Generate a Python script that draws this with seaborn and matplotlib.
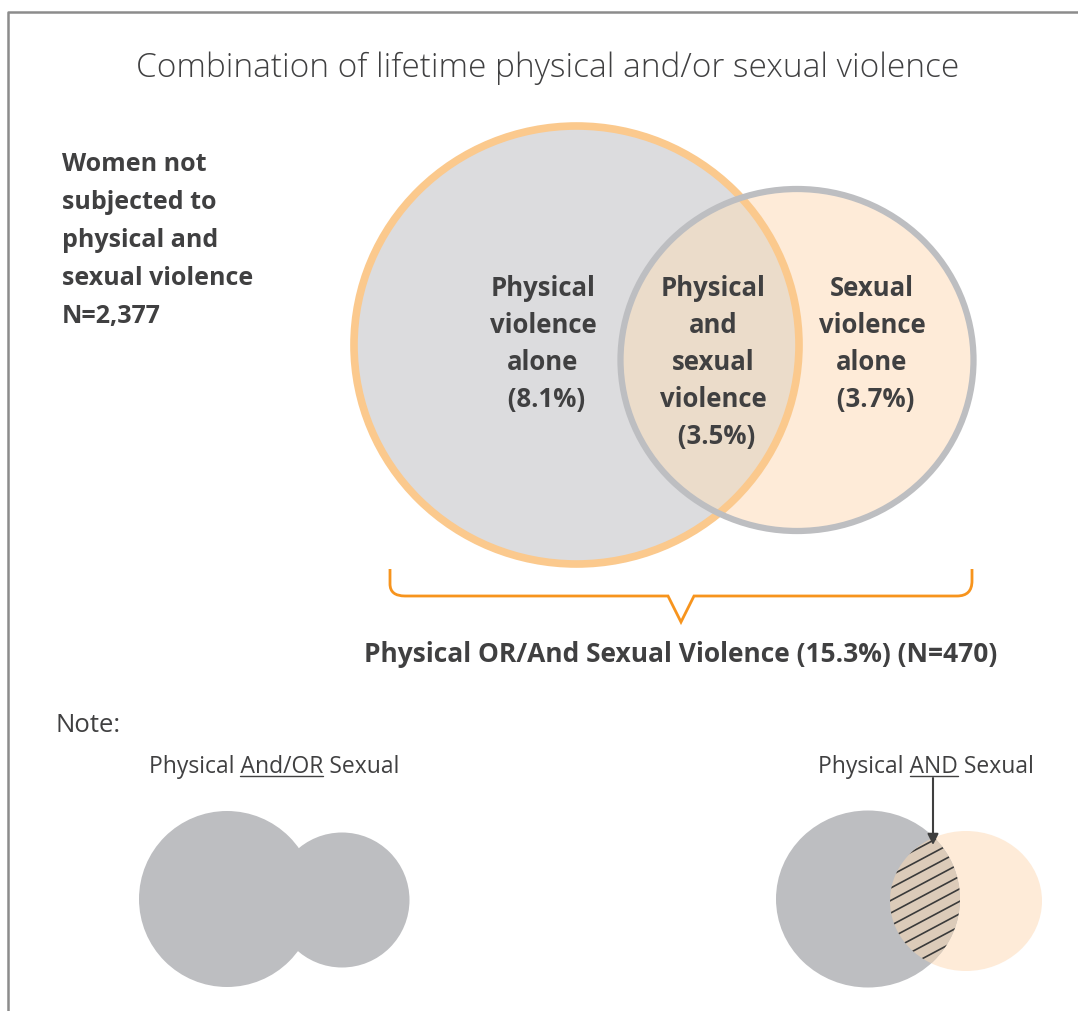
import matplotlib
matplotlib.use("Agg")
import numpy as np
import seaborn as sns
import matplotlib.pyplot as plt
from matplotlib.patches import Ellipse, PathPatch, Polygon
from matplotlib.path import Path

# ---- data -------------------------------------------------------------
title = "Combination of lifetime physical and/or sexual violence"
region_lines = [["Physical", "violence", "alone"],
                ["Physical", "and", "sexual", "violence"],
                ["Sexual", "violence", "alone"]]
region_pct = [8.1, 3.5, 3.7]
any_pct = 15.3
any_n = 470
none_lines = ["Women not", "subjected to", "physical and", "sexual violence"]
none_n = 2377

# ---- style -------------------------------------------------------------
sns.set_theme(style="white")
plt.rcParams["font.family"] = ["Open Sans", "DejaVu Sans"]

TXT = "#404041"
GRAY_FILL = "#DCDCDE"
ORANGE_EDGE = "#FBC98D"
PEACH = "#FEEBD8"
OVERLAP = "#EBDCCA"
GRAY_EDGE = "#BDBEC1"
BRACE = "#F7941D"
BLOB = "#BDBEC1"
HATCH_FILL = "#DCCBB9"

fig = plt.figure(figsize=(10.78, 10.12), dpi=100)
ax = fig.add_axes([0, 0, 1, 1])
ax.set_xlim(0, 1078)
ax.set_ylim(1012, 0)
ax.axis("off")

# frame
ax.plot([8, 8, 1078], [1012, 13, 13], color="#8C8C8C", lw=1.8, solid_capstyle="butt")

# title
ax.text(548, 77, title, ha="center", va="baseline", fontsize=24, color=TXT, fontweight="light")

# left label
for i, s in enumerate(none_lines + [f"N={none_n:,}"]):
    ax.text(62, 171 + i * 38, s, ha="left", va="baseline", fontsize=18, fontweight="bold", color=TXT)

# ---- main venn -----------------------------------------------------------
big_c, big_w, big_h = (576.5, 346), 445, 438
sm_c, sm_w, sm_h = (797, 361), 353, 342
big = Ellipse(big_c, big_w, big_h, fc=GRAY_FILL, ec="none", zorder=1)
ax.add_patch(big)
ax.add_patch(Ellipse(sm_c, sm_w, sm_h, fc=PEACH, ec="none", zorder=2))
ov = Ellipse(sm_c, sm_w, sm_h, fc=OVERLAP, ec="none", zorder=3)
ax.add_patch(ov)
ov.set_clip_path(big)
ax.add_patch(Ellipse(big_c, big_w, big_h, fill=False, ec=ORANGE_EDGE, lw=5.5, zorder=4))
ax.add_patch(Ellipse(sm_c, sm_w, sm_h, fill=False, ec=GRAY_EDGE, lw=4.5, zorder=5))

centers_x = [543, 713, 872]
for cx, lines, pct in zip(centers_x, region_lines, region_pct):
    for i, s in enumerate(lines + [f" ({pct}%)"]):
        ax.text(cx, 296 + i * 37, s, ha="center", va="baseline", fontsize=18.5,
                fontweight="bold", color=TXT, zorder=6)

# brace
verts = [(390, 570), (390, 585), (390, 597), (405, 597), (668, 597), (681, 623),
         (694, 597), (957, 597), (972, 597), (972, 582), (972, 570)]
codes = [Path.MOVETO, Path.LINETO, Path.CURVE3, Path.CURVE3, Path.LINETO, Path.LINETO,
         Path.LINETO, Path.LINETO, Path.CURVE3, Path.CURVE3, Path.LINETO]
ax.add_patch(PathPatch(Path(verts, codes), fill=False, ec=BRACE, lw=2, zorder=6))

ax.text(681, 662, f"Physical OR/And Sexual Violence ({any_pct}%) (N={any_n})",
        ha="center", va="baseline", fontsize=19, fontweight="bold", color=TXT)

# ---- note ------------------------------------------------------------------
ax.text(55, 732, "Note:", ha="left", va="baseline", fontsize=18.5, color=TXT)

renderer = fig.canvas.get_renderer()


def text_w(s, size):
    tmp = ax.text(0, 0, s, fontsize=size)
    w = tmp.get_window_extent(renderer).width
    tmp.remove()
    return w


def underlined(xc, y, pre, mid, post, size=16.5):
    t = ax.text(xc, y, pre + mid + post, ha="center", va="baseline", fontsize=size, color=TXT)
    bb = t.get_window_extent(renderer)
    x1 = bb.x0 + text_w(pre + mid, size)
    x0 = x1 - text_w(mid, size)
    ax.plot([x0, x1], [y + 4, y + 4], color=TXT, lw=1)


underlined(274, 773, "Physical ", "And/OR", " Sexual")
underlined(926, 773, "Physical ", "AND", " Sexual")

# left blobs (union)
ax.add_patch(Ellipse((227, 900), 176, 176, fc=BLOB, ec="none"))
ax.add_patch(Ellipse((342, 901), 135, 135, fc=BLOB, ec="none"))

# right: intersection
g_c, g_w, g_h = (868, 900), 184, 177
p_c, p_w, p_h = (966, 902), 152, 140
ax.add_patch(Ellipse(p_c, p_w, p_h, fc=PEACH, ec="none", zorder=1))
ax.add_patch(Ellipse(g_c, g_w, g_h, fc=BLOB, ec="none", zorder=2))

th = np.linspace(0, 2 * np.pi, 720)
gx, gy = g_c[0] + g_w / 2 * np.cos(th), g_c[1] + g_h / 2 * np.sin(th)
px, py = p_c[0] + p_w / 2 * np.cos(th), p_c[1] + p_h / 2 * np.sin(th)
in_p = ((gx - p_c[0]) / (p_w / 2)) ** 2 + ((gy - p_c[1]) / (p_h / 2)) ** 2 <= 1
in_g = ((px - g_c[0]) / (g_w / 2)) ** 2 + ((py - g_c[1]) / (g_h / 2)) ** 2 <= 1
pts = np.vstack([np.column_stack([gx[in_p], gy[in_p]]), np.column_stack([px[in_g], py[in_g]])])
cen = pts.mean(axis=0)
pts = pts[np.argsort(np.arctan2(pts[:, 1] - cen[1], pts[:, 0] - cen[0]))]
inter = Polygon(pts, closed=True, fc=HATCH_FILL, ec="none", zorder=3)
ax.add_patch(inter)

slope = np.tan(np.radians(28))
xs = np.array([870, 980])
for y0 in np.arange(800, 1020, 12.5):
    ln, = ax.plot(xs, y0 - slope * (xs - 870), color="#3A3A3A", lw=1.2, zorder=4)
    ln.set_clip_path(inter)

ax.annotate("", xy=(933, 846), xytext=(933, 779),
            arrowprops=dict(arrowstyle="-|>", color="#3F3F3F", lw=1.5,
                            mutation_scale=16, shrinkA=0, shrinkB=0), zorder=5)

fig.savefig("out.png", dpi=100)
